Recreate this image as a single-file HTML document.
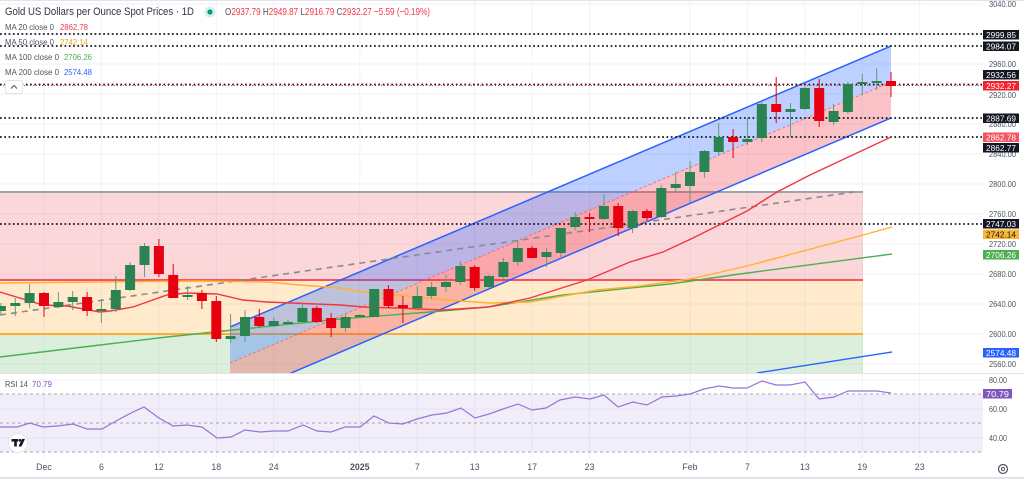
<!DOCTYPE html>
<html><head><meta charset="utf-8"><style>
html,body{margin:0;padding:0;background:#fff;}
svg{display:block;font-family:"Liberation Sans",Arial,sans-serif;}
</style></head><body>
<svg width="1024" height="479" viewBox="0 0 1024 479" xmlns="http://www.w3.org/2000/svg">
<defs>
<clipPath id="mainc"><rect x="0" y="0" width="983" height="373"/></clipPath>
<clipPath id="rsic"><rect x="0" y="374" width="983" height="84"/></clipPath>
</defs>
<rect x="0" y="0" width="1024" height="479" fill="#fff"/>
<rect x="0" y="0" width="1024" height="1" fill="#e0e3eb"/>

<!-- grid -->
<g stroke="#f0f2f6" stroke-width="1">
<line x1="0" y1="64" x2="983" y2="64"/><line x1="0" y1="94" x2="983" y2="94"/><line x1="0" y1="124" x2="983" y2="124"/><line x1="0" y1="154" x2="983" y2="154"/><line x1="0" y1="184" x2="983" y2="184"/><line x1="0" y1="214" x2="983" y2="214"/><line x1="0" y1="244" x2="983" y2="244"/><line x1="0" y1="274" x2="983" y2="274"/><line x1="0" y1="304" x2="983" y2="304"/><line x1="0" y1="334" x2="983" y2="334"/><line x1="0" y1="364" x2="983" y2="364"/><line x1="0" y1="4" x2="983" y2="4"/><line x1="0" y1="34" x2="983" y2="34"/>
<line x1="0" y1="380" x2="983" y2="380"/><line x1="0" y1="409" x2="983" y2="409"/><line x1="0" y1="438" x2="983" y2="438"/>
<line x1="44" y1="0" x2="44" y2="458"/><line x1="101.4" y1="0" x2="101.4" y2="458"/><line x1="158.9" y1="0" x2="158.9" y2="458"/><line x1="216.3" y1="0" x2="216.3" y2="458"/><line x1="273.7" y1="0" x2="273.7" y2="458"/><line x1="359.8" y1="0" x2="359.8" y2="458"/><line x1="417.3" y1="0" x2="417.3" y2="458"/><line x1="474.7" y1="0" x2="474.7" y2="458"/><line x1="532.1" y1="0" x2="532.1" y2="458"/><line x1="589.5" y1="0" x2="589.5" y2="458"/><line x1="690" y1="0" x2="690" y2="458"/><line x1="747.4" y1="0" x2="747.4" y2="458"/><line x1="804.9" y1="0" x2="804.9" y2="458"/><line x1="862.3" y1="0" x2="862.3" y2="458"/><line x1="919.7" y1="0" x2="919.7" y2="458"/>
</g>

<g clip-path="url(#mainc)">
<!-- zones -->
<rect x="0" y="192" width="863" height="88" fill="rgb(242,54,69)" fill-opacity="0.2"/>
<rect x="0" y="280" width="863" height="54" fill="rgb(255,152,0)" fill-opacity="0.2"/>
<rect x="0" y="334" width="863" height="39" fill="rgb(76,175,80)" fill-opacity="0.2"/>
<line x1="0" y1="192" x2="863" y2="192" stroke="#a2a2aa" stroke-width="2"/>
<line x1="0" y1="280" x2="863" y2="280" stroke="#f7525f" stroke-width="2"/>
<line x1="0" y1="334" x2="863" y2="334" stroke="#ff9800" stroke-width="1.5"/>

<!-- channel -->
<polygon points="230,327 891,46 891,82 230,363" fill="rgb(41,98,255)" fill-opacity="0.3"/>
<polygon points="230,363 891,82 891,118 230,399" fill="rgb(242,54,69)" fill-opacity="0.3"/>
<line x1="230" y1="327" x2="891" y2="46" stroke="#2962ff" stroke-width="1.5"/>
<line x1="230" y1="399" x2="891" y2="118" stroke="#2962ff" stroke-width="1.5"/>
<line x1="230" y1="363" x2="891" y2="82" stroke="#f7525f" stroke-width="1" stroke-dasharray="3 2" stroke-opacity="0.7"/>

<!-- gray dashed trend -->
<line x1="0" y1="315" x2="854" y2="192" stroke="#8a8a92" stroke-width="1.6" stroke-dasharray="6 5"/>

<!-- dotted horizontal lines -->
<g stroke="#131722" stroke-width="1.7" stroke-dasharray="1.7 2.6">
<line x1="0" y1="34" x2="982" y2="34"/>
<line x1="0" y1="46" x2="982" y2="46"/>
<line x1="0" y1="84.5" x2="982" y2="84.5"/>
<line x1="0" y1="118" x2="982" y2="118"/>
<line x1="0" y1="137" x2="982" y2="137"/>
<line x1="0" y1="224" x2="982" y2="224"/>
</g>
<line x1="0" y1="85.5" x2="982" y2="85.5" stroke="#f23645" stroke-width="1" stroke-dasharray="1 2"/>

<!-- MAs -->
<polyline fill="none" stroke="#4caf50" stroke-width="1.4" points="0,357 100,345 167,337 233,330 340,319 430,312 488,307 563,295 640,287 670,284 740,274 892,254"/>
<polyline fill="none" stroke="#ffb22e" stroke-width="1.4" points="0,283 100,282 200,281 267,282 300,285 340,288 363,292 397,295 447,300 490,303 530,302 597,290 640,286 690,279 747,266 807,250 863,235 892,227"/>
<polyline fill="none" stroke="#f23645" stroke-width="1.4" points="0,292 43,305 67,306 100,312 110,311 133,307 167,295 187,293 217,294 243,300 267,302 340,305 363,307 397,308 443,310 488,307 530,298 587,280 630,262 663,252 693,238 747,211 777,192 810,175 891,137"/>
<polyline fill="none" stroke="#2962ff" stroke-width="1.4" points="757,373 892,352"/>

<!-- candles -->
<g stroke-width="1">
<g stroke="#5e9c7a"><line x1="0.9" y1="303" x2="0.9" y2="314"/><line x1="15.3" y1="298" x2="15.3" y2="316"/><line x1="29.6" y1="284" x2="29.6" y2="308"/><line x1="58.4" y1="292" x2="58.4" y2="308"/><line x1="72.7" y1="291" x2="72.7" y2="310"/><line x1="101.4" y1="299" x2="101.4" y2="323"/><line x1="115.8" y1="276" x2="115.8" y2="312"/><line x1="130.1" y1="262" x2="130.1" y2="291"/><line x1="144.5" y1="243" x2="144.5" y2="277"/><line x1="187.6" y1="286" x2="187.6" y2="300"/><line x1="230.6" y1="314" x2="230.6" y2="343"/><line x1="245" y1="310" x2="245" y2="342"/><line x1="273.7" y1="318" x2="273.7" y2="327"/><line x1="288" y1="320" x2="288" y2="324"/><line x1="302.4" y1="304" x2="302.4" y2="322"/><line x1="345.5" y1="314" x2="345.5" y2="332"/><line x1="359.8" y1="314" x2="359.8" y2="318"/><line x1="374.2" y1="289" x2="374.2" y2="317"/><line x1="417.3" y1="286" x2="417.3" y2="309"/><line x1="431.6" y1="282" x2="431.6" y2="299"/><line x1="446" y1="275" x2="446" y2="292"/><line x1="460.3" y1="261" x2="460.3" y2="285"/><line x1="489" y1="275" x2="489" y2="288"/><line x1="503.4" y1="258" x2="503.4" y2="282"/><line x1="517.8" y1="240" x2="517.8" y2="266"/><line x1="546.5" y1="248" x2="546.5" y2="267"/><line x1="560.8" y1="228" x2="560.8" y2="257"/><line x1="575.2" y1="212" x2="575.2" y2="230"/><line x1="603.9" y1="194" x2="603.9" y2="220"/><line x1="632.6" y1="210" x2="632.6" y2="233"/><line x1="661.3" y1="185" x2="661.3" y2="218"/><line x1="675.7" y1="172" x2="675.7" y2="192"/><line x1="690" y1="161" x2="690" y2="203"/><line x1="704.4" y1="150" x2="704.4" y2="178"/><line x1="718.7" y1="123" x2="718.7" y2="155"/><line x1="747.4" y1="118" x2="747.4" y2="145"/><line x1="761.8" y1="102" x2="761.8" y2="142"/><line x1="790.5" y1="103" x2="790.5" y2="137"/><line x1="804.9" y1="87" x2="804.9" y2="110"/><line x1="833.6" y1="104" x2="833.6" y2="125"/><line x1="847.9" y1="82" x2="847.9" y2="114"/><line x1="862.3" y1="74" x2="862.3" y2="95"/><line x1="876.7" y1="68" x2="876.7" y2="90"/></g>
<g stroke="#e60010"><line x1="44" y1="292" x2="44" y2="317"/><line x1="87.1" y1="292" x2="87.1" y2="316"/><line x1="158.9" y1="239" x2="158.9" y2="277"/><line x1="173.2" y1="264" x2="173.2" y2="298"/><line x1="201.9" y1="290" x2="201.9" y2="309"/><line x1="216.3" y1="296" x2="216.3" y2="342"/><line x1="259.3" y1="309" x2="259.3" y2="327"/><line x1="316.8" y1="306" x2="316.8" y2="323"/><line x1="331.1" y1="313" x2="331.1" y2="337"/><line x1="388.5" y1="285" x2="388.5" y2="308"/><line x1="402.9" y1="296" x2="402.9" y2="323"/><line x1="474.7" y1="265" x2="474.7" y2="291"/><line x1="532.1" y1="246" x2="532.1" y2="258"/><line x1="589.5" y1="213" x2="589.5" y2="232"/><line x1="618.2" y1="203" x2="618.2" y2="236"/><line x1="647" y1="209" x2="647" y2="221"/><line x1="733.1" y1="129" x2="733.1" y2="158"/><line x1="776.2" y1="77" x2="776.2" y2="123"/><line x1="819.2" y1="79" x2="819.2" y2="127"/><line x1="891" y1="72" x2="891" y2="97"/></g>
</g>
<g fill="#2c8352">
<rect x="-4.1" y="306" width="10" height="5"/><rect x="10.3" y="303" width="10" height="3"/><rect x="24.6" y="293" width="10" height="10"/><rect x="53.4" y="302" width="10" height="5"/><rect x="67.7" y="297" width="10" height="5"/><rect x="96.4" y="309" width="10" height="2"/><rect x="110.8" y="290" width="10" height="19"/><rect x="125.1" y="265" width="10" height="25"/><rect x="139.5" y="246" width="10" height="19"/><rect x="182.6" y="295" width="10" height="2"/><rect x="225.6" y="336" width="10" height="3"/><rect x="240" y="317" width="10" height="19"/><rect x="268.7" y="321" width="10" height="5"/><rect x="283" y="322" width="10" height="2"/><rect x="297.4" y="308" width="10" height="14"/><rect x="340.5" y="317" width="10" height="11"/><rect x="354.8" y="315" width="10" height="2"/><rect x="369.2" y="289" width="10" height="28"/><rect x="412.3" y="296" width="10" height="12"/><rect x="426.6" y="287" width="10" height="9"/><rect x="441" y="282" width="10" height="5"/><rect x="455.3" y="266" width="10" height="16"/><rect x="484" y="276" width="10" height="11"/><rect x="498.4" y="262" width="10" height="15"/><rect x="512.8" y="248" width="10" height="14"/><rect x="541.5" y="252" width="10" height="5"/><rect x="555.8" y="228" width="10" height="25"/><rect x="570.2" y="217" width="10" height="10"/><rect x="598.9" y="206" width="10" height="13"/><rect x="627.6" y="211" width="10" height="17"/><rect x="656.3" y="188" width="10" height="29"/><rect x="670.7" y="184" width="10" height="4"/><rect x="685" y="172" width="10" height="14"/><rect x="699.4" y="151" width="10" height="21"/><rect x="713.7" y="137" width="10" height="15"/><rect x="742.4" y="139" width="10" height="3"/><rect x="756.8" y="104" width="10" height="34"/><rect x="785.5" y="109" width="10" height="3"/><rect x="799.9" y="88" width="10" height="21"/><rect x="828.6" y="111" width="10" height="11"/><rect x="842.9" y="84" width="10" height="28"/><rect x="857.3" y="82" width="10" height="2"/><rect x="871.7" y="81" width="10" height="2"/>
</g>
<g fill="#e60010">
<rect x="39" y="293" width="10" height="13"/><rect x="82.1" y="297" width="10" height="14"/><rect x="153.9" y="246" width="10" height="28"/><rect x="168.2" y="275" width="10" height="23"/><rect x="196.9" y="293" width="10" height="8"/><rect x="211.3" y="301" width="10" height="38"/><rect x="254.3" y="317" width="10" height="9"/><rect x="311.8" y="308" width="10" height="14"/><rect x="326.1" y="318" width="10" height="10"/><rect x="383.5" y="289" width="10" height="17"/><rect x="397.9" y="305" width="10" height="3"/><rect x="469.7" y="267" width="10" height="21"/><rect x="527.1" y="248" width="10" height="10"/><rect x="584.5" y="217" width="10" height="2"/><rect x="613.2" y="206" width="10" height="22"/><rect x="642" y="211" width="10" height="7"/><rect x="728.1" y="137" width="10" height="5"/><rect x="771.2" y="104" width="10" height="8"/><rect x="814.2" y="88" width="10" height="33"/><rect x="886" y="81" width="10" height="5"/>
</g>
</g>

<!-- pane separator -->
<rect x="0" y="373" width="1024" height="1" fill="#e0e3eb"/>

<!-- RSI pane -->
<g clip-path="url(#rsic)">
<rect x="0" y="394" width="983" height="58" fill="rgb(126,87,194)" fill-opacity="0.1"/>
<g stroke="#a3a6af" stroke-width="1" stroke-dasharray="3 3">
<line x1="0" y1="394" x2="983" y2="394"/><line x1="0" y1="423" x2="983" y2="423"/><line x1="0" y1="452" x2="983" y2="452"/>
</g>
<polyline fill="none" stroke="#9575d6" stroke-width="1.2" points="0,427 17,427 30,423 43,427 57,426 73,424 87,429 102,429 116,421 131,413 144,407 159,418 173,426 187,425 202,427 217,438 231,437 245,430 260,432 274,431 288,431 303,425 317,431 331,432 345,427 360,427 374,416 389,423 403,424 417,419 432,415 447,413 461,408 475,418 489,414 503,409 518,404 532,410 546,408 560,400 575,397 590,399 604,395 618,407 633,402 647,405 662,397 676,396 690,394 704,389 719,386 733,388 747,388 762,381 776,385 790,385 805,382 819,399 834,397 848,391 862,391 877,391 891,393"/>
</g>

<!-- TV logo -->
<circle cx="18" cy="443" r="9.5" fill="#fff" stroke="#e3e5ea" stroke-width="1"/>
<rect x="11.5" y="439" width="6.5" height="2.6" fill="#131722"/>
<rect x="14.2" y="439" width="2.6" height="7.5" fill="#131722"/>
<circle cx="19.8" cy="440.3" r="1.4" fill="#131722"/>
<polygon points="22,438.9 25,438.9 21.5,446.5 18.5,446.5" fill="#131722"/>

<!-- bottom line -->
<rect x="0" y="477" width="1024" height="2" fill="#e0e3eb"/>

<!-- header -->
<text x="5" y="15" font-size="11" fill="#333640" textLength="189" lengthAdjust="spacingAndGlyphs">Gold US Dollars per Ounce Spot Prices · 1D</text>
<circle cx="210" cy="12" r="5.5" fill="#d6efe6"/>
<circle cx="210" cy="12" r="2.6" fill="#089981"/>
<text x="225" y="15" font-size="10.5" fill="#f23645" textLength="205" lengthAdjust="spacingAndGlyphs"><tspan fill="#50535e">O</tspan>2937.79 <tspan fill="#50535e">H</tspan>2949.87 <tspan fill="#50535e">L</tspan>2916.79 <tspan fill="#50535e">C</tspan>2932.27 −5.59 (−0.19%)</text>

<g font-size="8.6" fill="#50535e">
<text x="5" y="30" textLength="49" lengthAdjust="spacingAndGlyphs">MA 20 close 0</text>
<text x="60" y="30" fill="#f23645" textLength="28" lengthAdjust="spacingAndGlyphs">2862.78</text>
<text x="5" y="45" textLength="49" lengthAdjust="spacingAndGlyphs">MA 50 close 0</text>
<text x="60" y="45" fill="#f5a623" textLength="28" lengthAdjust="spacingAndGlyphs">2742.14</text>
<text x="5" y="60" textLength="54" lengthAdjust="spacingAndGlyphs">MA 100 close 0</text>
<text x="64" y="60" fill="#4caf50" textLength="28" lengthAdjust="spacingAndGlyphs">2706.26</text>
<text x="5" y="75" textLength="54" lengthAdjust="spacingAndGlyphs">MA 200 close 0</text>
<text x="64" y="75" fill="#2962ff" textLength="28" lengthAdjust="spacingAndGlyphs">2574.48</text>
<text x="5" y="387" textLength="23" lengthAdjust="spacingAndGlyphs">RSI 14</text>
<text x="32" y="387" fill="#7e57c2" textLength="20" lengthAdjust="spacingAndGlyphs">70.79</text>
</g>
<rect x="5.5" y="80.5" width="17" height="13" rx="2" fill="#fff" stroke="#e0e3eb"/>
<polyline points="11,88.5 14,85.5 17,88.5" fill="none" stroke="#50535e" stroke-width="1"/>

<!-- price axis labels -->
<g font-size="8.6" fill="#50535e">
<text x="989" y="7" textLength="27" lengthAdjust="spacingAndGlyphs">3040.00</text>
<text x="989" y="67" textLength="27" lengthAdjust="spacingAndGlyphs">2960.00</text>
<text x="989" y="98" textLength="27" lengthAdjust="spacingAndGlyphs">2920.00</text>
<text x="989" y="127" textLength="27" lengthAdjust="spacingAndGlyphs">2880.00</text>
<text x="989" y="157" textLength="27" lengthAdjust="spacingAndGlyphs">2840.00</text>
<text x="989" y="187" textLength="27" lengthAdjust="spacingAndGlyphs">2800.00</text>
<text x="989" y="217" textLength="27" lengthAdjust="spacingAndGlyphs">2760.00</text>
<text x="989" y="247" textLength="27" lengthAdjust="spacingAndGlyphs">2720.00</text>
<text x="989" y="277" textLength="27" lengthAdjust="spacingAndGlyphs">2680.00</text>
<text x="989" y="307" textLength="27" lengthAdjust="spacingAndGlyphs">2640.00</text>
<text x="989" y="337" textLength="27" lengthAdjust="spacingAndGlyphs">2600.00</text>
<text x="989" y="367" textLength="27" lengthAdjust="spacingAndGlyphs">2560.00</text>
<text x="989" y="383" textLength="18" lengthAdjust="spacingAndGlyphs">80.00</text>
<text x="989" y="412" textLength="18" lengthAdjust="spacingAndGlyphs">60.00</text>
<text x="989" y="441" textLength="18" lengthAdjust="spacingAndGlyphs">40.00</text>
</g>

<!-- price boxes -->
<rect x="983" y="30" width="36" height="9.5" fill="#131722"/>
<rect x="983" y="41.5" width="36" height="9.5" fill="#131722"/>
<rect x="983" y="70" width="36" height="9.5" fill="#131722"/>
<rect x="983" y="81" width="36" height="9.5" fill="#f2212f"/>
<rect x="983" y="113.5" width="36" height="9.5" fill="#131722"/>
<rect x="983" y="132.5" width="36" height="9.5" fill="#f7525f"/>
<rect x="983" y="143" width="36" height="9.5" fill="#131722"/>
<rect x="983" y="219" width="36" height="9.5" fill="#131722"/>
<rect x="983" y="229.5" width="36" height="9.5" fill="#fbb534"/>
<rect x="983" y="250" width="36" height="9.5" fill="#4caf50"/>
<rect x="983" y="348" width="36" height="9.5" fill="#2962ff"/>
<rect x="983" y="389" width="29" height="9.5" fill="#7e57c2"/>
<g font-size="8.6" fill="#fff">
<text x="986" y="38" textLength="30" lengthAdjust="spacingAndGlyphs">2999.85</text>
<text x="986" y="49.5" textLength="30" lengthAdjust="spacingAndGlyphs">2984.07</text>
<text x="986" y="78" textLength="30" lengthAdjust="spacingAndGlyphs">2932.56</text>
<text x="986" y="89" textLength="30" lengthAdjust="spacingAndGlyphs">2932.27</text>
<text x="986" y="121.5" textLength="30" lengthAdjust="spacingAndGlyphs">2887.69</text>
<text x="986" y="140.5" textLength="30" lengthAdjust="spacingAndGlyphs">2862.78</text>
<text x="986" y="151" textLength="30" lengthAdjust="spacingAndGlyphs">2862.77</text>
<text x="986" y="227" textLength="30" lengthAdjust="spacingAndGlyphs">2747.03</text>
<text x="986" y="237.5" fill="#131722" textLength="30" lengthAdjust="spacingAndGlyphs">2742.14</text>
<text x="986" y="258" textLength="30" lengthAdjust="spacingAndGlyphs">2706.26</text>
<text x="986" y="356" textLength="30" lengthAdjust="spacingAndGlyphs">2574.48</text>
<text x="986" y="397" textLength="23" lengthAdjust="spacingAndGlyphs">70.79</text>
</g>

<!-- time axis -->
<g font-size="8.8" fill="#50535e" text-anchor="middle">
<text x="44" y="470">Dec</text>
<text x="101.4" y="470">6</text>
<text x="158.9" y="470">12</text>
<text x="216.3" y="470">18</text>
<text x="273.7" y="470">24</text>
<text x="359.8" y="470" font-weight="bold">2025</text>
<text x="417.3" y="470">7</text>
<text x="474.7" y="470">13</text>
<text x="532.1" y="470">17</text>
<text x="589.5" y="470">23</text>
<text x="690" y="470">Feb</text>
<text x="747.4" y="470">7</text>
<text x="804.9" y="470">13</text>
<text x="862.3" y="470">19</text>
<text x="919.7" y="470">23</text>
</g>

<!-- gear -->
<circle cx="1003" cy="469" r="4.5" fill="none" stroke="#50535e" stroke-width="1.2"/>
<circle cx="1003" cy="469" r="1.6" fill="none" stroke="#50535e" stroke-width="1"/>
</svg>
</body></html>
